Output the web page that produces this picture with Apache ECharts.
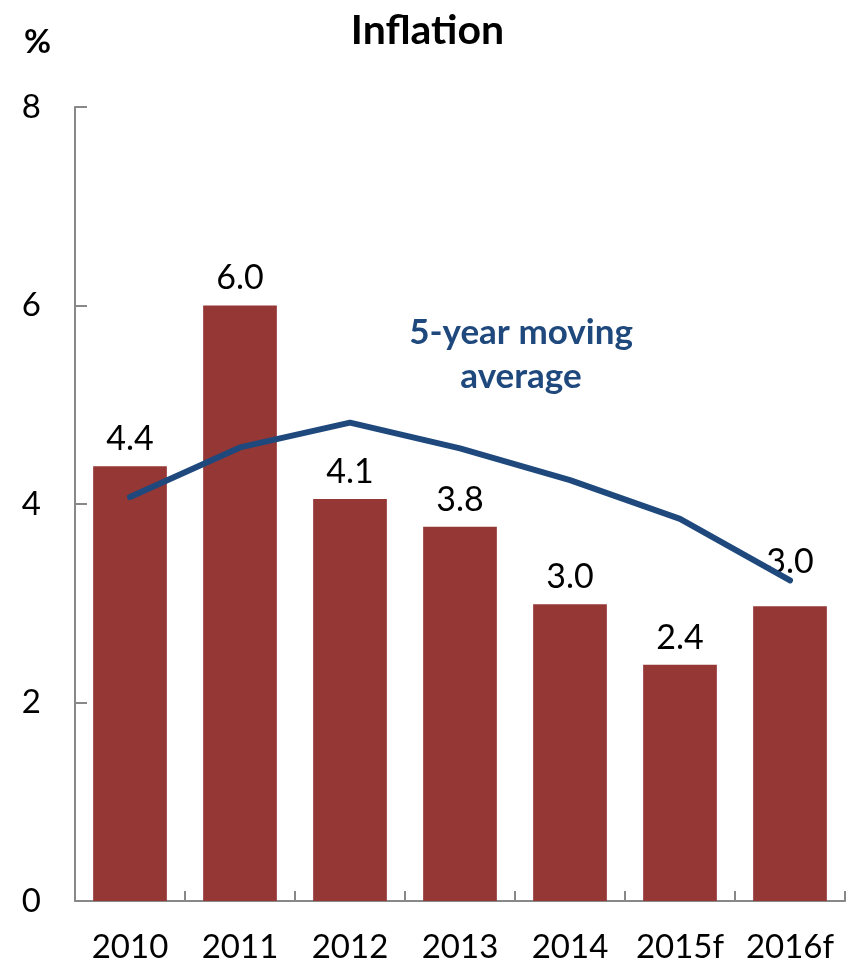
<!DOCTYPE html>
<html>
<head>
<meta charset="utf-8">
<script src="https://cdn.jsdelivr.net/npm/echarts@6/dist/echarts.min.js"></script>
<style>
  html, body { margin: 0; padding: 0; background: #fff; }
  #main { width: 855px; height: 966px; }
</style>
</head>
<body>
<div id="main"></div>
<script>
var years = ['2010', '2011', '2012', '2013', '2014', '2015f', '2016f'];
var inflation = [4.38, 6.0, 4.05, 3.77, 2.99, 2.38, 2.97];
var inflationLabels = ['4.4', '6.0', '4.1', '3.8', '3.0', '2.4', '3.0'];
var movingAverage = [4.07, 4.57, 4.82, 4.56, 4.24, 3.85, 3.23];

var font = 'Lato, "Open Sans", sans-serif';
var myChart = echarts.init(document.getElementById('main'));

// last label sits a bit higher in the original
var barData = inflation.map(function (v, i) {
    var item = { value: v };
    if (i === inflation.length - 1) {
        item.label = { distance: 27 };
    }
    return item;
});

option = {
    animation: false,
    title: {
        text: 'Inflation',
        left: 'center',
        top: 5,
        textStyle: { fontFamily: font, fontSize: 41, fontWeight: 'bold', color: '#000' }
    },
    grid: { left: 75, right: 10, top: 107, bottom: 65 },
    graphic: [
        {
            type: 'text', left: 24, top: 26,
            style: { text: '%', fontFamily: font, fontSize: 33, fontWeight: 'bold', fill: '#000' }
        },
        {
            type: 'text', x: 521, y: 355,
            style: {
                text: '5-year moving\naverage', fontFamily: font, fontSize: 35, fontWeight: 'bold',
                fill: '#1F497D', align: 'center', verticalAlign: 'middle', lineHeight: 44
            }
        }
    ],
    xAxis: {
        type: 'category',
        data: years,
        axisLine: { lineStyle: { color: '#888', width: 2 } },
        axisTick: { show: true, inside: true, length: 10, lineStyle: { color: '#888', width: 2 } },
        axisLabel: { interval: 0, fontFamily: font, fontSize: 33, color: '#000', margin: 30 }
    },
    yAxis: {
        type: 'value',
        min: 0, max: 8, interval: 2,
        splitLine: { show: false },
        axisLine: { show: true, lineStyle: { color: '#888', width: 2 } },
        axisTick: { show: true, inside: true, length: 12, lineStyle: { color: '#888', width: 2 } },
        axisLabel: { fontFamily: font, fontSize: 33, color: '#000', margin: 34 }
    },
    series: [
        {
            type: 'bar',
            data: barData,
            barCategoryGap: '33%',
            itemStyle: { color: '#953735' },
            label: {
                show: true, position: 'top', distance: 10,
                fontFamily: font, fontSize: 34, color: '#000',
                formatter: function (p) { return inflationLabels[p.dataIndex]; }
            }
        },
        {
            type: 'line',
            data: movingAverage,
            symbol: 'none',
            lineStyle: { color: '#1F497D', width: 6, cap: 'round' }
        }
    ]
};

myChart.setOption(option);
</script>
</body>
</html>
